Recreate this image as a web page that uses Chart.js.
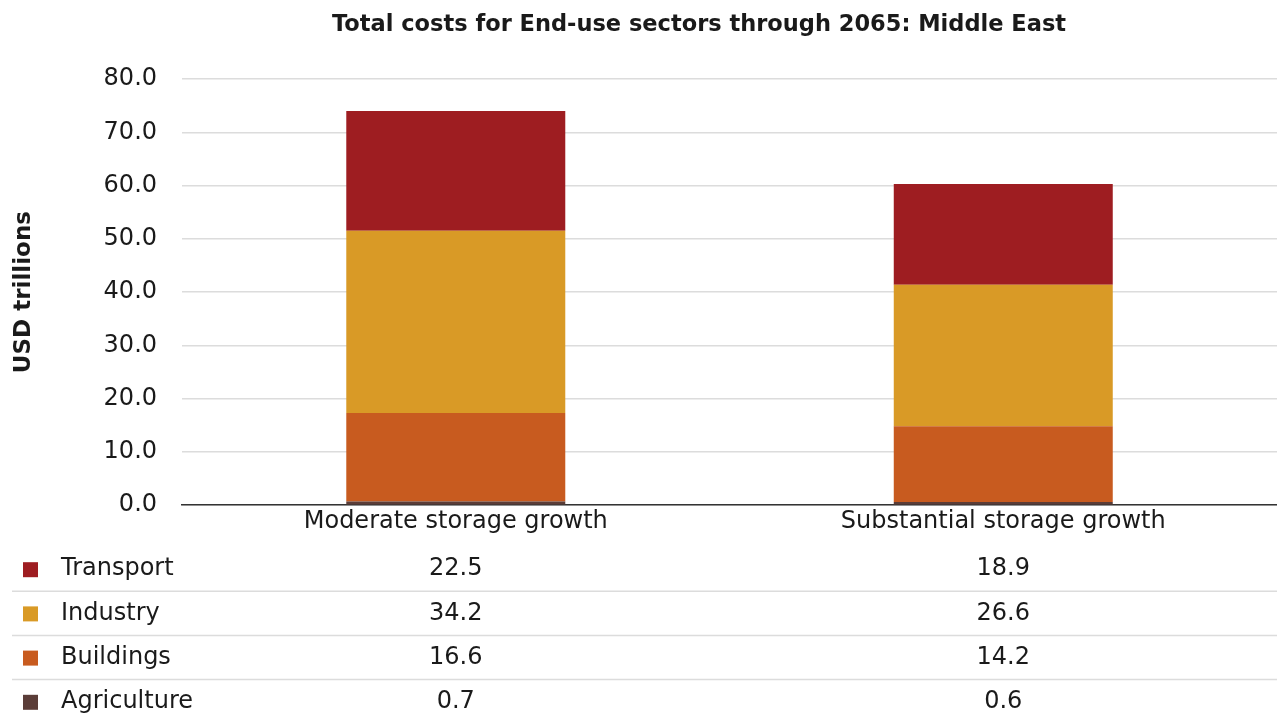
<html>
<head>
    <title>Total costs for End-use sectors through 2065</title>
    <script src="https://cdn.jsdelivr.net/npm/chart.js@4"></script>
    <style>
        html, body { margin: 0; padding: 0; background: #fff; }
        #wrap { width: 1277px; height: 713px; }
    </style>
</head>
<body>
    <div id="wrap"><canvas id="costChart"></canvas></div>
    <script>
        // scenarios and sector totals (USD trillions)
        var scenarios = ['Moderate storage growth', 'Substantial storage growth'];
        var agriculture = [0.7, 0.6];
        var buildings = [16.6, 14.2];
        var industry = [34.2, 26.6];
        var transport = [22.5, 18.9];
        var yTicks = [0, 10, 20, 30, 40, 50, 60, 70, 80];

        var FONT = '"DejaVu Sans", sans-serif';
        var TEXT = '#1a1a1a';

        // stacked bottom-up, table listed top-down
        var sectors = [
            { label: 'Agriculture', data: agriculture, color: '#5b3d38' },
            { label: 'Buildings', data: buildings, color: '#c85b1f' },
            { label: 'Industry', data: industry, color: '#d99a26' },
            { label: 'Transport', data: transport, color: '#9e1d21' }
        ];

        var datasets = sectors.map(function (s) {
            return {
                label: s.label,
                data: s.data,
                backgroundColor: s.color,
                borderWidth: 0,
                categoryPercentage: 1,
                barPercentage: 0.4
            };
        });

        // title + data table drawn under the x axis
        var tablePlugin = {
            id: 'dataTable',
            afterDraw: function (chart) {
                var ctx = chart.ctx;
                var area = chart.chartArea;
                var xScale = chart.scales.x;
                ctx.save();

                ctx.fillStyle = TEXT;
                ctx.font = 'bold 22.5px ' + FONT;
                ctx.textAlign = 'center';
                ctx.textBaseline = 'middle';
                ctx.fillText('Total costs for End-use sectors through 2065: Middle East', 699, 25);

                var rows = sectors.slice().reverse();
                var rowTop = area.bottom + 64;
                var rowGap = 44.2;
                for (var i = 0; i < rows.length; i++) {
                    var y = rowTop + i * rowGap;
                    ctx.fillStyle = rows[i].color;
                    ctx.fillRect(23, y - 7, 15, 15);

                    ctx.fillStyle = TEXT;
                    ctx.font = '24px ' + FONT;
                    ctx.textAlign = 'left';
                    ctx.fillText(rows[i].label, 61, y);

                    ctx.textAlign = 'center';
                    for (var j = 0; j < scenarios.length; j++) {
                        ctx.fillText(rows[i].data[j].toFixed(1), xScale.getPixelForValue(j), y);
                    }

                    if (i < rows.length - 1) {
                        ctx.strokeStyle = '#dcdcdc';
                        ctx.lineWidth = 1.5;
                        ctx.beginPath();
                        ctx.moveTo(12, y + 22);
                        ctx.lineTo(chart.width, y + 22);
                        ctx.stroke();
                    }
                }
                ctx.restore();
            }
        };

        var ctx = document.getElementById('costChart').getContext('2d');
        var costChart = new Chart(ctx, {
            type: 'bar',
            data: { labels: scenarios, datasets: datasets },
            plugins: [tablePlugin],
            options: {
                responsive: true,
                maintainAspectRatio: false,
                animation: false,
                layout: { padding: { top: 79, left: 10, right: 0, bottom: 175 } },
                plugins: {
                    legend: { display: false },
                    title: { display: false },
                    tooltip: { enabled: false }
                },
                scales: {
                    x: {
                        stacked: true,
                        grid: { display: false, drawTicks: false },
                        border: { color: '#333', width: 1.5 },
                        ticks: { color: TEXT, font: { family: FONT, size: 24 }, padding: 2 }
                    },
                    y: {
                        stacked: true,
                        min: 0,
                        max: 80,
                        afterBuildTicks: function (axis) {
                            axis.ticks = yTicks.map(function (v) { return { value: v }; });
                        },
                        grid: { color: '#dcdcdc', lineWidth: 1.5, drawTicks: false },
                        border: { display: false },
                        ticks: {
                            color: TEXT,
                            padding: 25,
                            font: { family: FONT, size: 24 },
                            callback: function (v) { return Number(v).toFixed(1); }
                        },
                        title: {
                            display: true,
                            text: 'USD trillions',
                            color: TEXT,
                            font: { family: FONT, size: 23, weight: 'bold' },
                            padding: { top: 0, bottom: 41 }
                        }
                    }
                }
            }
        });
    </script>
</body>
</html>
